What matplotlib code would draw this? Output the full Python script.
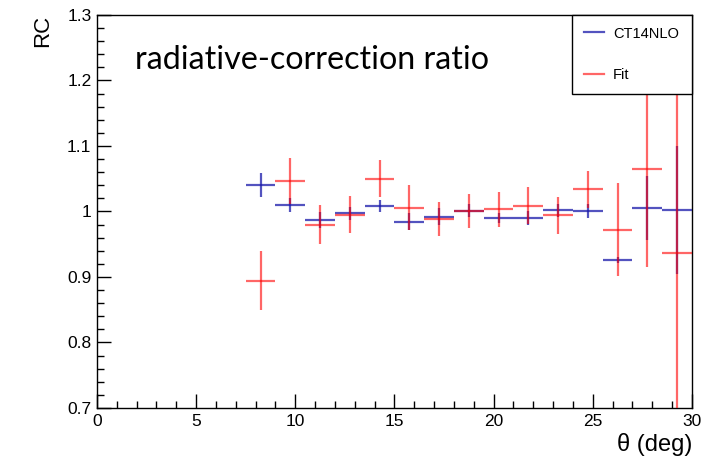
import matplotlib
matplotlib.use("Agg")
import matplotlib.pyplot as plt
from matplotlib.ticker import MultipleLocator, FuncFormatter
from matplotlib.lines import Line2D
import numpy as np

# bin centres (deg) and half-width
theta = [8.25, 9.75, 11.25, 12.75, 14.25, 15.75, 17.25, 18.75, 20.25, 21.75, 23.25, 24.75, 26.25, 27.75, 29.25]
half_width = 0.75

ct14_val = [1.040, 1.010, 0.987, 0.997, 1.008, 0.984, 0.992, 1.001, 0.990, 0.990, 1.002, 1.001, 0.926, 1.005, 1.002]
ct14_err = [0.018, 0.011, 0.012, 0.010, 0.009, 0.013, 0.013, 0.010, 0.008, 0.010, 0.010, 0.011, 0.004, 0.049, 0.098]

fit_val = [0.894, 1.047, 0.980, 0.995, 1.050, 1.006, 0.988, 1.000, 1.003, 1.009, 0.994, 1.034, 0.972, 1.065, 0.936]
fit_err = [0.045, 0.035, 0.030, 0.028, 0.028, 0.035, 0.026, 0.026, 0.027, 0.028, 0.028, 0.028, 0.071, 0.150, 0.450]

labels = ["CT14NLO", "Fit"]
blue = "#1a1aaa"
red = "#ff0000"

fig = plt.figure(figsize=(7.1, 4.63), dpi=100)
ax = fig.add_axes([0.1366, 0.1188, 0.838, 0.849])

ax.errorbar(theta, ct14_val, xerr=half_width, yerr=ct14_err, fmt="none",
            ecolor=blue, elinewidth=1.6, alpha=0.75, capsize=0, zorder=3)
ax.errorbar(theta, fit_val, xerr=half_width, yerr=fit_err, fmt="none",
            ecolor=red, elinewidth=1.6, alpha=0.6, capsize=0, zorder=4)

ax.set_xlim(0, 30)
ax.set_ylim(0.7, 1.3)
ax.xaxis.set_major_locator(MultipleLocator(5))
ax.xaxis.set_minor_locator(MultipleLocator(1))
ax.yaxis.set_major_locator(MultipleLocator(0.1))
ax.yaxis.set_minor_locator(MultipleLocator(0.02))
ax.yaxis.set_major_formatter(FuncFormatter(lambda v, p: "%g" % round(v, 2)))
ax.tick_params(which="both", direction="in", top=False, right=False, width=1, color="black")
ax.tick_params(which="major", length=10, labelsize=12.5, pad=4)
ax.tick_params(which="minor", length=5)
for lab in ax.get_xticklabels() + ax.get_yticklabels():
    lab.set_family("Liberation Sans")
for s in ax.spines.values():
    s.set_linewidth(1.0)
    s.set_color("black")

ax.set_ylabel("RC", loc="top", fontsize=16, family="Liberation Sans", labelpad=10)
ax.set_xlabel("θ (deg)", loc="right", fontsize=17, family="Liberation Sans", labelpad=3)

ax.text(0.064, 0.885, "radiative-correction ratio", transform=ax.transAxes,
        fontsize=23.2, family="Lato", ha="left", va="center")

handles = [Line2D([], [], color=blue, lw=1.6, alpha=0.75),
           Line2D([], [], color=red, lw=1.6, alpha=0.6)]
leg = ax.legend(handles, labels, loc="upper left", bbox_to_anchor=(0.799, 0.8, 0.201, 0.2),
                mode="expand", borderaxespad=0, fancybox=False, framealpha=1,
                edgecolor="black", prop={"family": "Liberation Sans", "size": 10.5},
                handlelength=1.4, handletextpad=0.6, labelspacing=1.9, borderpad=0.8)
leg.get_frame().set_linewidth(1.0)
leg.set_zorder(10)

fig.savefig("out.png", dpi=100)
